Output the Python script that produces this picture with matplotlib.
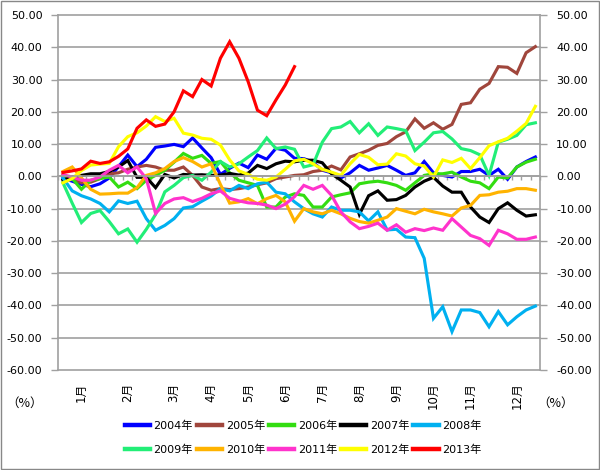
import numpy as np
import matplotlib
matplotlib.use('Agg')
import matplotlib.pyplot as plt
from matplotlib.ticker import FuncFormatter
from matplotlib.patches import Rectangle

plt.rcParams['font.family'] = ['DejaVu Sans', 'Noto Sans CJK JP']

# weekly change (%) per year, 52 weeks
y2004 = [-0.6, -1.5, -2.5, -3.2, -2.3, -0.5, 3.0, 6.6, 3.0, 5.3, 9.0, 9.4, 9.9, 9.2, 11.9, 8.8, 5.8,
         0.6, 2.5, 4.1, 2.7, 6.6, 5.3, 8.7, 8.1, 5.6, 5.5, 4.4, 1.9, 1.1, -0.5, 1.1, 3.4, 1.9,
         2.6, 3.4, 1.9, 0.3, 1.1, 4.6, 1.1, 0.3, -0.2, 1.5, 1.5, 2.2, 0.3, 2.2, -0.9, 2.9, 4.6, 6.0]
y2005 = [0.3, -0.7, -2.0, -1.8, -0.7, 0.8, 1.1, 2.2, 2.9, 3.4, 2.9, 1.9, 1.9, 2.9, 0.3, -3.3, -4.3,
         -3.8, -4.1, -3.8, -3.3, -2.6, -2.0, -0.7, -0.2, 0.3, 0.5, 1.5, 1.9, 3.2, 2.0, 6.0, 7.0, 8.1,
         9.6, 10.2, 12.3, 13.8, 17.8, 14.9, 16.6, 14.6, 16.1, 22.3, 22.8, 27.0, 28.8, 34.0, 33.8, 31.9, 38.3, 40.2]
y2006 = [0.3, -0.7, -4.0, -1.2, -0.7, -0.2, -3.3, -1.8, -3.8, -1.2, 0.3, 1.9, 4.4, 7.1, 5.6, 6.5, 4.0,
         4.6, 1.1, -1.2, -2.0, -2.8, -9.5, -9.5, -6.4, -5.4, -5.9, -9.5, -9.5, -6.4, -5.7, -5.1, -2.3, -1.8,
         -1.5, -2.0, -2.8, -4.3, -2.0, 0.3, 0.8, 0.8, 1.3, -0.2, -1.5, -2.0, -3.8, -0.2, -0.5, 2.9, 4.4, 5.3]
y2007 = [-1.2, -0.2, 0.3, 0.8, 0.8, 1.5, 2.9, 4.9, -0.3, -0.3, -3.5, 0.6, -0.5, 0.6, 0.4, 0.5, 0.3,
         0.4, 0.9, 0.4, 1.0, 3.4, 2.4, 3.9, 4.7, 4.5, 5.0, 5.0, 4.2, 0.8, -1.2, -3.3, -11.8, -6.0,
         -4.5, -7.4, -7.2, -5.9, -3.3, -1.5, -0.3, -3.0, -4.9, -4.9, -9.5, -12.6, -14.3, -10.0, -8.2, -10.5, -12.3, -11.9]
y2008 = [-0.5, -4.5, -6.0, -7.0, -8.4, -11.0, -7.6, -8.4, -7.7, -13.1, -16.7, -15.2, -13.1, -9.8, -9.4, -7.7, -6.1,
         -3.8, -4.5, -2.8, -3.8, -2.3, -1.8, -4.9, -5.4, -7.9, -10.0, -11.6, -12.6, -9.5, -10.5, -10.5, -11.0, -13.8,
         -11.0, -16.6, -16.4, -18.8, -19.0, -25.4, -44.0, -40.4, -48.1, -41.4, -41.4, -42.2, -46.6, -41.9, -46.0, -43.5, -41.4, -40.2]
y2009 = [-2.0, -8.3, -14.3, -11.5, -10.6, -14.0, -17.8, -16.3, -20.4, -16.4, -11.8, -4.8, -2.8, -0.4, 0.3, -1.2, 1.3,
         4.6, 2.9, 3.9, 6.0, 8.0, 11.9, 8.6, 9.1, 8.4, 2.9, 3.6, 10.6, 14.8, 15.3, 17.0, 13.5, 16.3,
         12.7, 15.3, 14.8, 14.2, 8.0, 10.6, 13.5, 13.9, 11.6, 8.6, 8.0, 6.7, 0.3, 10.6, 11.5, 12.7, 16.0, 16.6]
y2010 = [1.5, 2.9, -0.5, -4.0, -5.5, -5.4, -5.2, -5.2, -3.5, 0.3, 1.1, 2.4, 4.6, 5.8, 4.6, 2.9, 3.9,
         -2.5, -8.3, -7.9, -6.9, -8.5, -6.9, -5.9, -7.9, -13.9, -10.0, -11.0, -11.6, -10.5, -11.6, -13.0, -14.0, -14.5,
         -13.6, -12.6, -10.0, -10.8, -11.6, -10.2, -11.0, -11.6, -12.3, -9.8, -9.0, -5.9, -5.7, -4.9, -4.6, -3.8, -3.8, -4.3]
y2011 = [0.5, -0.2, -1.2, -1.2, -0.2, 1.9, 3.4, 1.1, 2.9, -0.7, -11.5, -8.4, -7.0, -6.6, -7.8, -6.8, -5.4,
         -4.5, -6.8, -7.6, -8.2, -8.4, -8.9, -10.0, -8.6, -6.3, -2.8, -4.0, -2.8, -5.9, -11.0, -14.1, -16.2, -15.5,
         -14.5, -16.7, -15.0, -17.3, -16.2, -16.8, -16.0, -16.7, -13.1, -15.7, -18.3, -19.3, -21.4, -16.7, -17.8, -19.5, -19.5, -18.8]
y2012 = [-2.0, -0.7, 1.8, 3.5, 3.8, 4.0, 9.2, 12.3, 13.5, 15.6, 18.5, 17.0, 18.0, 13.4, 12.8, 11.8, 11.5,
         9.7, 5.1, 1.7, 0.6, -0.9, -1.2, -0.2, 2.2, 4.8, 5.3, 3.9, 2.2, 1.3, 0.3, 3.9, 6.8, 5.9,
         3.6, 3.8, 7.0, 6.3, 3.9, 3.2, -0.2, 5.1, 4.3, 5.6, 2.4, 5.8, 9.5, 10.7, 11.8, 14.0, 16.4, 21.7]
y2013 = [1.2, 1.7, 2.3, 4.7, 4.0, 4.5, 6.2, 8.5, 14.9, 17.5, 15.5, 16.2, 20.0, 26.5, 24.7, 30.0, 28.0,
         36.6, 41.7, 36.6, 29.3, 20.5, 18.8, 23.7, 28.3, 34.0]

years = ['2004年', '2005年', '2006年', '2007年', '2008年',
         '2009年', '2010年', '2011年', '2012年', '2013年']
series = [y2004, y2005, y2006, y2007, y2008, y2009, y2010, y2011, y2012, y2013]
colors = ['#0000ff', '#a0463c', '#33dd11', '#000000', '#00b0f0',
          '#22ee77', '#ffb300', '#ff33cc', '#ffff00', '#ff0000']

months = ['1月', '2月', '3月', '4月', '5月', '6月', '7月', '8月', '9月', '10月', '11月', '12月']
month_pos = [2, 7, 12, 16, 20, 24, 28, 32, 36, 40, 44, 49]

grid = '#a0a0a0'
fig = plt.figure(figsize=(6, 4.7), dpi=100)
ax = fig.add_axes([58.3 / 600, 1 - 370 / 470, (540 - 58.3) / 600, 355 / 470])

handles = []
for vals, c, lab in zip(series, colors, years):
    h, = ax.plot(np.arange(len(vals)), vals, color=c, lw=2.25, label=lab, solid_joinstyle='miter')
    handles.append(h)

ax.set_xlim(-0.5, 51.5)
ax.set_ylim(-60, 50)
ax.set_yticks(np.arange(-60, 51, 10))
ax.yaxis.set_major_formatter(FuncFormatter(lambda v, p: f'{v:.2f}'))
ax.grid(axis='y', color=grid, lw=1.2)
for gl in ax.get_ygridlines():
    gl.set_clip_on(False)
ax.set_axisbelow(True)

ax.tick_params(axis='y', left=True, right=True, labelleft=True, labelright=True,
               length=5, width=1, color=grid, labelsize=8, pad=6.5)
for t in ax.yaxis.get_major_ticks():
    col = 'red' if t.get_loc() < 0 else 'black'
    t.label1.set_color(col)
    t.label2.set_color(col)

# category axis crosses at zero
ax.spines['bottom'].set_position(('data', 0))
ax.spines['top'].set_visible(False)
for s in ['left', 'right', 'bottom']:
    ax.spines[s].set_color(grid)
    ax.spines[s].set_linewidth(1.2)
ax.set_xticks(np.arange(-0.5, 52, 1))
ax.tick_params(axis='x', direction='out', length=3, width=1, color=grid, labelbottom=False)

for m, p in zip(months, month_pos):
    ax.text(p, -0.035, m, transform=ax.get_xaxis_transform(), rotation=90,
            ha='center', va='top', fontsize=8.5)

pct_font = ['Noto Sans CJK JP', 'DejaVu Sans']
fig.text(6 / 600, 1 - 403 / 470, '（%）', fontsize=9, va='center', ha='left', family=pct_font)
fig.text(537 / 600, 1 - 403 / 470, '（%）', fontsize=9, va='center', ha='left', family=pct_font)

order = [0, 5, 1, 6, 2, 7, 3, 8, 4, 9]
fig.legend([handles[i] for i in order], [years[i] for i in order], ncol=5,
           loc='center', bbox_to_anchor=(303 / 600, 1 - 437.5 / 470), frameon=False,
           fontsize=8, handlelength=2.3, handletextpad=0.3, columnspacing=0.35,
           labelspacing=1.25, borderpad=0)
for lh in fig.legends[0].get_lines():
    lh.set_linewidth(3.2)

fig.patches.append(Rectangle((0.002, 0.002), 0.996, 0.995, transform=fig.transFigure,
                             fill=False, edgecolor='#888888', lw=1))

fig.savefig('out.png', dpi=100)
